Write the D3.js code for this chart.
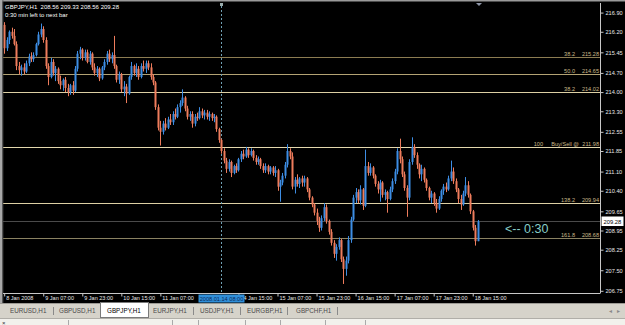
<!DOCTYPE html>
<html><head><meta charset="utf-8">
<script src="https://cdn.jsdelivr.net/npm/d3@7"></script>
<style>
html,body{margin:0;padding:0;background:#000;}
svg{display:block;font-family:"Liberation Sans",Arial,sans-serif;}
</style></head>
<body>
<svg id="c" width="625" height="325"></svg>
<script>
// ---- data (GBPJPY, H1, 8 Jan 2008 15:00 .. 18 Jan 2008 17:00) ----
const opens = [216.45,215.60,215.90,216.20,216.05,215.75,214.95,214.80,214.90,214.75,
215.05,215.30,215.20,215.35,215.75,216.10,216.30,215.90,214.95,214.55,
215.10,214.70,214.85,214.40,214.25,214.45,214.15,214.00,214.25,214.05,
214.85,215.40,215.55,215.25,215.45,215.10,215.40,214.90,214.70,214.85,
214.50,214.90,215.10,215.40,215.20,215.35,214.95,214.45,214.65,214.10,
214.20,213.95,214.55,214.95,214.70,214.85,214.55,214.95,214.85,215.05,
214.90,214.55,214.35,213.45,212.70,212.55,212.85,212.70,213.00,212.90,
213.20,213.10,213.45,213.60,213.80,213.40,213.10,213.20,212.85,213.10,
213.05,213.30,213.15,213.25,213.10,213.20,213.05,213.10,212.65,212.25,
211.85,211.50,211.20,211.45,211.05,211.30,211.15,211.55,211.75,211.65,
211.90,211.70,211.85,211.60,211.45,211.55,211.30,211.15,211.30,211.10,
211.25,211.05,211.15,210.55,210.70,210.95,211.35,211.85,211.65,210.55,
210.80,210.65,210.85,210.70,210.85,210.45,210.15,209.90,209.60,209.30,
209.05,209.40,209.80,209.30,208.90,208.50,208.10,208.35,208.60,207.90,
207.55,207.85,208.60,209.35,210.15,210.35,210.05,210.45,209.85,211.30,
211.05,211.25,210.95,210.65,210.45,210.70,210.25,210.35,210.10,210.45,
210.75,211.10,211.85,211.55,211.00,210.50,210.15,211.45,212.00,211.70,
211.35,211.00,211.20,210.80,210.50,210.15,210.30,209.95,209.75,210.10,
210.40,210.55,210.45,210.85,211.10,210.75,210.45,210.10,209.90,210.30,
210.60,210.25,209.65,209.05,208.56];
const highs = [216.55,216.00,216.25,216.35,216.30,215.85,215.10,215.00,215.05,215.15,
215.40,215.45,215.45,215.80,216.20,216.50,216.40,216.00,215.05,215.25,
215.20,214.95,214.90,214.60,214.50,214.55,214.30,214.30,214.40,214.95,
215.50,215.65,215.60,215.55,215.55,215.50,215.45,215.05,214.95,214.90,
214.95,215.20,215.50,215.55,215.45,216.05,215.00,214.75,214.70,214.40,
214.30,214.60,215.10,215.00,215.05,214.95,215.05,215.15,215.15,215.15,
215.05,214.65,214.40,213.55,212.95,212.95,213.05,213.10,213.20,213.30,
213.40,213.55,213.70,214.10,213.85,213.50,213.30,213.30,213.20,213.25,
213.45,213.40,213.35,213.35,213.30,213.25,213.20,213.15,212.70,212.30,
211.95,211.60,211.55,211.50,211.35,211.40,211.60,211.85,211.90,212.00,
211.95,211.95,211.90,211.70,211.65,211.60,211.40,211.40,211.35,211.30,
211.30,211.30,211.20,210.80,211.05,211.45,212.10,211.95,211.80,210.90,
211.00,210.90,210.95,210.95,210.90,210.50,210.20,209.95,209.75,209.45,
209.50,209.95,209.90,209.35,209.00,208.60,208.45,208.70,208.65,208.00,
208.00,208.75,209.45,210.25,210.50,210.45,210.60,210.50,211.90,211.45,
211.40,211.30,211.00,210.75,210.80,210.75,210.45,210.40,210.55,210.85,
211.20,211.95,212.30,211.65,211.10,210.60,211.55,212.35,212.10,211.80,
211.40,211.35,211.25,210.85,210.55,210.40,210.35,210.10,210.20,210.45,
210.65,210.70,210.95,211.50,211.25,210.85,210.50,210.25,210.40,210.90,
210.75,210.30,209.70,209.15,209.33];
const lows = [215.40,215.50,215.75,215.95,215.70,214.80,214.65,214.60,214.65,214.70,
214.95,215.10,215.10,215.30,215.70,216.00,215.80,214.85,214.25,214.50,
214.60,214.40,214.30,214.10,214.05,214.00,213.85,213.90,213.90,214.00,
214.75,215.20,215.15,215.15,215.05,215.00,214.80,214.60,214.55,214.40,
214.45,214.80,215.00,215.10,215.05,214.85,214.35,214.30,214.00,213.85,
213.60,213.90,214.45,214.60,214.55,214.45,214.50,214.75,214.70,214.80,
214.45,214.25,213.35,212.60,212.05,212.45,212.60,212.65,212.80,212.80,
213.00,213.05,213.25,213.50,213.30,213.00,212.95,212.70,212.75,212.95,
213.00,213.05,213.00,213.00,212.95,212.95,212.90,212.55,212.15,211.75,
211.40,211.05,211.10,210.90,211.00,211.05,211.10,211.45,211.55,211.60,
211.60,211.65,211.50,211.35,211.35,211.20,211.05,211.05,211.00,211.00,
210.95,210.90,210.40,210.00,210.60,210.85,211.25,211.55,210.45,210.30,
210.55,210.50,210.55,210.55,210.35,210.05,209.80,209.50,209.15,208.90,
208.95,209.30,209.20,208.80,208.40,207.95,207.85,208.25,207.80,207.00,
207.30,207.75,208.50,209.30,209.95,209.95,209.90,209.70,209.80,210.95,
210.95,210.85,210.55,210.30,210.00,210.15,210.05,209.60,210.05,210.35,
210.65,211.00,211.40,210.90,210.40,209.45,210.05,211.35,211.60,211.20,
210.85,210.75,210.70,210.40,210.05,209.95,209.85,209.60,209.70,210.00,
210.25,210.35,210.40,210.75,210.65,210.35,209.95,209.70,209.85,210.20,
210.15,209.55,208.95,208.40,208.56];
const closes = [215.60,215.90,216.20,216.05,215.75,214.95,214.80,214.90,214.75,215.05,
215.30,215.20,215.35,215.75,216.10,216.30,215.90,214.95,214.55,215.10,
214.70,214.85,214.40,214.25,214.45,214.15,214.00,214.25,214.05,214.85,
215.40,215.55,215.25,215.45,215.10,215.40,214.90,214.70,214.85,214.50,
214.90,215.10,215.40,215.20,215.35,214.95,214.45,214.65,214.10,214.20,
213.95,214.55,214.95,214.70,214.85,214.55,214.95,214.85,215.05,214.90,
214.55,214.35,213.45,212.70,212.55,212.85,212.70,213.00,212.90,213.20,
213.10,213.45,213.60,213.80,213.40,213.10,213.20,212.85,213.10,213.05,
213.30,213.15,213.25,213.10,213.20,213.05,213.10,212.65,212.25,211.85,
211.50,211.20,211.45,211.05,211.30,211.15,211.55,211.75,211.65,211.90,
211.70,211.85,211.60,211.45,211.55,211.30,211.15,211.30,211.10,211.25,
211.05,211.15,210.55,210.70,210.95,211.35,211.85,211.65,210.55,210.80,
210.65,210.85,210.70,210.85,210.45,210.15,209.90,209.60,209.30,209.05,
209.40,209.80,209.30,208.90,208.50,208.10,208.35,208.60,207.90,207.55,
207.85,208.60,209.35,210.15,210.35,210.05,210.45,209.85,211.30,211.05,
211.25,210.95,210.65,210.45,210.70,210.25,210.35,210.10,210.45,210.75,
211.10,211.85,211.55,211.00,210.50,210.15,211.45,212.00,211.70,211.35,
211.00,211.20,210.80,210.50,210.15,210.30,209.95,209.75,210.10,210.40,
210.55,210.45,210.85,211.10,210.75,210.45,210.10,209.90,210.30,210.60,
210.25,209.65,209.05,208.56,209.28];

const yTicks = [216.90,216.20,215.45,214.70,214.00,213.30,212.55,211.85,211.10,210.40,209.65,208.95,208.25,207.50,206.75];
const xTickIdx = [0,16,32,48,64,96,112,128,144,160,176,192];
const xTickLabels = ["8 Jan 2008","9 Jan 07:00","9 Jan 23:00","10 Jan 15:00","11 Jan 07:00","14 Jan 15:00","15 Jan 07:00","15 Jan 23:00","16 Jan 15:00","17 Jan 07:00","17 Jan 23:00","18 Jan 15:00"];
const fibLevels = ["38.2","50.0","38.2","100","138.2","161.8"];
const fibPrices = [215.28,214.65,214.02,211.98,209.94,208.68];
const fibNotes = ["","","","Buy/Sell @","",""];
const fibColors = ["#8c7c52","#b3a374","#ddd0a4","#e4d8ae","#ddd0a4","#8a8262"];
const bidPrice = 209.28;
const cursorIdx = 89, cursorLabel = "2008.01.14 08:00";
const tabs = ["EURUSD,H1","GBPUSD,H1","GBPJPY,H1","EURJPY,H1","USDJPY,H1","EURGBP,H1","GBPCHF,H1"];
const activeTab = 2;

// ---- drawing ----
const svg = d3.select("#c");
const L = 3, R = 600, T = 3, B = 293;
const x = d3.scaleLinear().domain([0, 194]).range([4.2, 477.6]);
const y = d3.scaleLinear().domain([206.67, 217.25]).range([B, T]);
const UP = "#3d8de4", DN = "#ee7c5c";

svg.append("rect").attr("width",625).attr("height",303).attr("fill","#000");

// fib / level lines
const lv = svg.append("g");
fibPrices.forEach((p,i)=>{
  const yy = Math.round(y(p)) + 0.5;
  lv.append("line").attr("x1",L).attr("x2",R).attr("y1",yy).attr("y2",yy)
    .attr("stroke",fibColors[i]).attr("stroke-width",1.2);
  lv.append("text").attr("x",599).attr("y",yy-2).attr("text-anchor","end")
    .attr("font-size",5.6).attr("fill","#cbb98a").text(p.toFixed(2));
  if (fibNotes[i]) {
    lv.append("text").attr("x",579).attr("y",yy-2).attr("text-anchor","end")
      .attr("font-size",5.6).attr("fill","#cbb98a").text(fibNotes[i]);
    lv.append("text").attr("x",543).attr("y",yy-2).attr("text-anchor","end")
      .attr("font-size",5.6).attr("fill","#cbb98a").text(fibLevels[i]);
  } else {
    lv.append("text").attr("x",575).attr("y",yy-2).attr("text-anchor","end")
      .attr("font-size",5.6).attr("fill","#cbb98a").text(fibLevels[i]);
  }
});
// bid line
const by = Math.round(y(bidPrice)) + 0.5;
svg.append("line").attr("x1",L).attr("x2",R).attr("y1",by).attr("y2",by)
  .attr("stroke","#4a4a4a").attr("stroke-width",1.2);

// cursor vertical dotted line
const cx = Math.round(x(cursorIdx)) + 0.5;
svg.append("line").attr("x1",cx).attr("x2",cx).attr("y1",T+3).attr("y2",B)
  .attr("stroke","#6fa0b4").attr("stroke-dasharray","2,2").attr("stroke-width",1);
svg.append("rect").attr("x",cx-1.5).attr("y",3).attr("width",3).attr("height",3).attr("fill","#9aa");

// candles
const bars = svg.append("g");
d3.range(closes.length).forEach(i=>{
  const c = closes[i] >= opens[i] ? UP : DN;
  const xx = Math.round(x(i));
  bars.append("line").attr("x1",xx+0.5).attr("x2",xx+0.5)
    .attr("y1",y(highs[i])).attr("y2",y(lows[i])).attr("stroke",c).attr("stroke-width",1);
  const top = y(Math.max(opens[i],closes[i])), bot = y(Math.min(opens[i],closes[i]));
  bars.append("rect").attr("x",xx-0.5).attr("width",2).attr("y",top)
    .attr("height",Math.max(1,bot-top)).attr("fill",c);
});

// shift marker at top
svg.append("path").attr("d",`M${476},3 L${482},3 L${479},6 Z`).attr("fill","#8e96a8");

// "<-- 0:30"
svg.append("text").attr("x",505).attr("y",233).attr("font-size",12.5)
  .attr("fill","#86cdc6").text("<-- 0:30");

// header
svg.append("text").attr("x",5).attr("y",9).attr("font-size",6).attr("fill","#fff")
  .attr("xml:space","preserve")
  .text("GBPJPY,H1  208.56 209.33 208.56 209.28");
svg.append("text").attr("x",5).attr("y",16.5).attr("font-size",6).attr("fill","#fff")
  .text("0:30 min left to next bar");

// frame / borders
svg.append("rect").attr("x",0).attr("y",0).attr("width",625).attr("height",1.5).attr("fill","#9a9a9a");
svg.append("rect").attr("x",0).attr("y",0).attr("width",2.5).attr("height",303).attr("fill","#a8a8a8");
svg.append("rect").attr("x",2.5).attr("y",0).attr("width",0.8).attr("height",303).attr("fill","#555");

// y axis
const yAxis = d3.axisRight(y).tickValues(yTicks).tickFormat(d3.format(".2f")).tickSize(3).tickPadding(2);
const ya = svg.append("g").attr("transform",`translate(${R+0.5},0)`).call(yAxis);
ya.select(".domain").attr("stroke","#c8c8c8").attr("d",`M0,${T}V${B}`);
ya.selectAll(".tick line").attr("stroke","#c8c8c8");
ya.selectAll(".tick text").attr("fill","#e8e8e8").attr("font-size",5.6)
  .attr("font-family","Liberation Sans, Arial, sans-serif");

// current price box
svg.append("rect").attr("x",601.5).attr("y",by-5).attr("width",22).attr("height",9.5)
  .attr("fill","#fff");
svg.append("text").attr("x",603.5).attr("y",by+2.2).attr("font-size",5.8).attr("fill","#000")
  .text(bidPrice.toFixed(2));

// x axis
const xAxis = d3.axisBottom(x).tickValues(xTickIdx)
  .tickFormat((d,i)=>xTickLabels[i]).tickSize(3).tickPadding(0);
const xa = svg.append("g").attr("transform",`translate(0,${B+0.5})`).call(xAxis);
xa.select(".domain").attr("stroke","#c8c8c8").attr("d",`M${L},0H${R+0.5}`);
xa.selectAll(".tick line").attr("stroke","#c8c8c8");
xa.selectAll(".tick text").attr("fill","#e8e8e8").attr("font-size",5.5)
  .attr("text-anchor","start").attr("dx",1.5).attr("y",2.2).attr("dy","0.71em")
  .attr("font-family","Liberation Sans, Arial, sans-serif");

// cursor date label
svg.append("rect").attr("x",cx-23).attr("y",294.5).attr("width",46).attr("height",8)
  .attr("fill","#2f8ed8");
svg.append("text").attr("x",cx).attr("y",300.8).attr("text-anchor","middle")
  .attr("font-size",5.6).attr("fill","#0b2a5a").text(cursorLabel);

// tab bar
svg.append("rect").attr("x",0).attr("y",303).attr("width",625).attr("height",15).attr("fill","#d6d3ca");
svg.append("line").attr("x1",0).attr("x2",625).attr("y1",303.5).attr("y2",303.5).attr("stroke","#9c9a94");
const tabX = [10,59,107,153,200,247,296];
const sepX = [53,null,null,193,240,287,337];
svg.append("rect").attr("x",100.5).attr("y",302.5).attr("width",48).attr("height",15)
  .attr("fill","#fff").attr("stroke","#7a7a7a").attr("stroke-width",1);
tabs.forEach((t,i)=>{
  svg.append("text").attr("x",tabX[i]).attr("y",313.2).attr("font-size",6.3)
    .attr("fill", i===activeTab ? "#000" : "#4a4a4a").text(t);
});
sepX.forEach(s=>{
  if (s) svg.append("line").attr("x1",s+0.5).attr("x2",s+0.5).attr("y1",307).attr("y2",315)
    .attr("stroke","#8a8a8a");
});
svg.append("text").attr("x",609).attr("y",313).attr("font-size",6).attr("fill","#888").text("◂");
svg.append("text").attr("x",617).attr("y",313).attr("font-size",6).attr("fill","#888").text("▸");

// terminal strip
svg.append("rect").attr("x",0).attr("y",318).attr("width",625).attr("height",7).attr("fill","#f2f1ec");
svg.append("line").attr("x1",0).attr("x2",625).attr("y1",318.5).attr("y2",318.5).attr("stroke","#b0aea8");
svg.append("text").attr("x",2).attr("y",325).attr("font-size",6).attr("fill","#333").text("×");
[68,172,198,245,280,325,365].forEach(s=>{
  svg.append("line").attr("x1",s+0.5).attr("x2",s+0.5).attr("y1",320).attr("y2",325).attr("stroke","#aaa");
});
</script>
</body></html>
